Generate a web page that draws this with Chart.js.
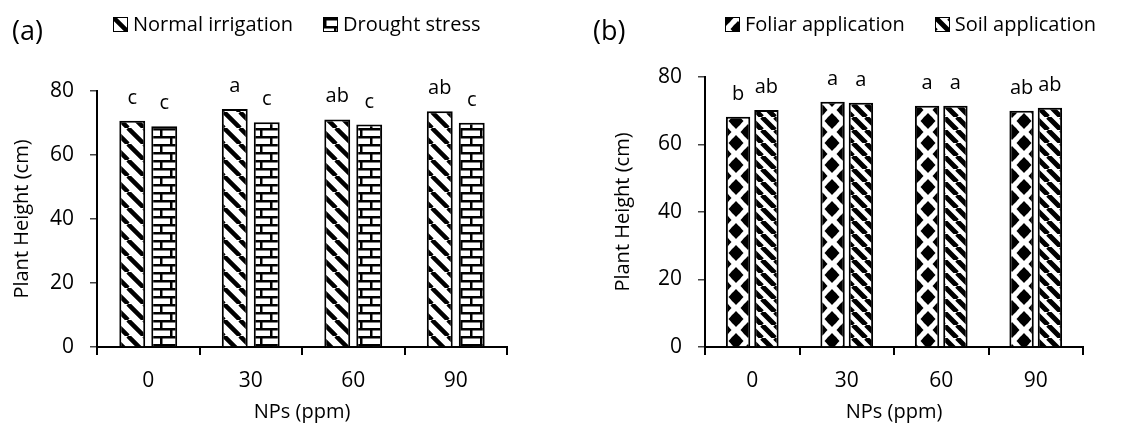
<!DOCTYPE html>
<html>
<head>
<meta charset="utf-8">
<script src="https://cdn.jsdelivr.net/npm/chart.js@4"></script>
<style>
  body { margin: 0; background: #fff; font-family: 'Open Sans', sans-serif; }
  #wrap { position: relative; width: 1137px; height: 433px; overflow: hidden; }
  canvas.chart { position: absolute; top: 0; }
  .panel { position: absolute; font-size: 27px; line-height: 32px; top: 14px; }
  .legend { position: absolute; top: 12px; display: flex; gap: 30px; font-size: 20px; line-height: 24px; }
  .legend span { display: flex; align-items: center; gap: 5px; white-space: nowrap; }
  .legend canvas { border: 1px solid #000; }
</style>
</head>
<body>
<div id="wrap">
  <canvas id="chartA" class="chart" width="560" height="433" style="left:0"></canvas>
  <canvas id="chartB" class="chart" width="557" height="433" style="left:580px"></canvas>
  <div class="panel" style="left:12px">(a)</div>
  <div class="panel" style="left:593px">(b)</div>
  <div class="legend" id="legendA" style="left:113px"></div>
  <div class="legend" id="legendB" style="left:725px"></div>
</div>
<script>
// data
var doses = ['0', '30', '60', '90'];
var normalIrrigation = [70.7, 74.4, 71.1, 73.7];
var droughtStress = [69.0, 70.2, 69.5, 70.1];
var normalLetters = ['c', 'a', 'ab', 'ab'];
var droughtLetters = ['c', 'c', 'c', 'c'];

var foliarApp = [68.2, 72.7, 71.5, 70.0];
var soilApp = [70.2, 72.4, 71.5, 70.9];
var foliarLetters = ['b', 'a', 'a', 'ab'];
var soilLetters = ['ab', 'a', 'a', 'ab'];

var yMax = 80;
var yStep = 20;

// fill patterns (Excel-like)
function tile(w, h, draw) {
  var c = document.createElement('canvas');
  c.width = w; c.height = h;
  var g = c.getContext('2d');
  g.fillStyle = '#fff';
  g.fillRect(0, 0, w, h);
  g.fillStyle = '#000';
  g.strokeStyle = '#000';
  draw(g);
  return c;
}

function stripeTile(size, lw) {
  return tile(size, size, function (g) {
    g.lineWidth = lw;
    g.beginPath();
    [-size, 0, size].forEach(function (o) {
      g.moveTo(o, 0);
      g.lineTo(o + size, size);
    });
    g.stroke();
  });
}

function brickTile() {
  return tile(20, 16, function (g) {
    g.fillRect(0, 0, 20, 2.5);
    g.fillRect(0, 8, 20, 2.5);
    g.fillRect(0, 0, 2.5, 8);
    g.fillRect(10, 8, 2.5, 8);
  });
}

function dotTile() {
  return tile(24, 22, function (g) {
    [[0, 0], [24, 0], [0, 22], [24, 22], [12, 11]].forEach(function (p) {
      g.beginPath();
      g.moveTo(p[0], p[1] - 8);
      g.lineTo(p[0] + 7.5, p[1]);
      g.lineTo(p[0], p[1] + 8);
      g.lineTo(p[0] - 7.5, p[1]);
      g.closePath();
      g.fill();
      g.beginPath();
      g.arc(p[0], p[1], 5.5, 0, Math.PI * 2);
      g.fill();
    });
  });
}

var ctxTmp = document.createElement('canvas').getContext('2d');
function pat(c) { return ctxTmp.createPattern(c, 'repeat'); }

var tiles = {
  normal: stripeTile(16, 4.5),
  drought: brickTile(),
  foliar: dotTile(),
  soil: stripeTile(13, 5)
};

// letters above the bars
var lettersPlugin = {
  id: 'letters',
  afterDatasetsDraw: function (chart) {
    var ctx = chart.ctx;
    ctx.save();
    ctx.font = '20px "Open Sans"';
    ctx.fillStyle = '#000';
    ctx.textAlign = 'center';
    ctx.textBaseline = 'alphabetic';
    chart.data.datasets.forEach(function (ds, i) {
      chart.getDatasetMeta(i).data.forEach(function (bar, j) {
        ctx.fillText(ds.letters[j], bar.x, bar.y - 17);
      });
    });
    ctx.restore();
  }
};

function buildLegend(el, datasets) {
  datasets.forEach(function (ds) {
    var item = document.createElement('span');
    var sw = document.createElement('canvas');
    sw.width = 13; sw.height = 13;
    var g = sw.getContext('2d');
    g.fillStyle = g.createPattern(ds.tile, 'repeat');
    g.fillRect(0, 0, 13, 13);
    item.appendChild(sw);
    item.appendChild(document.createTextNode(ds.label));
    el.appendChild(item);
  });
}

function makeOptions(yWidth, yTitlePad, padTop, padRight, cat, bar) {
  return {
    responsive: false,
    animation: false,
    devicePixelRatio: 1,
    layout: { padding: { top: padTop, right: padRight, bottom: 0, left: 0 } },
    datasets: { bar: { categoryPercentage: cat, barPercentage: bar } },
    plugins: { legend: { display: false }, tooltip: { enabled: false } },
    scales: {
      x: {
        afterFit: function (s) { s.height = 86; },
        border: { color: '#000', width: 2 },
        grid: { drawOnChartArea: false, color: '#000', lineWidth: 2, tickLength: 8 },
        ticks: { color: '#000', padding: 13, font: { family: 'Open Sans', size: 21 } },
        title: { display: true, text: 'NPs (ppm)', color: '#000', padding: { top: 0, bottom: 9 },
                 font: { family: 'Open Sans', size: 20 } }
      },
      y: {
        min: 0,
        max: yMax,
        afterFit: function (s) { s.width = yWidth; },
        border: { color: '#000', width: 2 },
        grid: { drawOnChartArea: false, color: '#444', lineWidth: 1.5, tickLength: 7 },
        ticks: { stepSize: yStep, color: '#000', padding: 16, font: { family: 'Open Sans', size: 21 } },
        title: { display: true, text: 'Plant Height (cm)', color: '#000', padding: { top: yTitlePad, bottom: 0 },
                 font: { family: 'Open Sans', size: 20 } }
      }
    }
  };
}

var dsA = [
  { label: 'Normal irrigation', data: normalIrrigation, letters: normalLetters, tile: tiles.normal,
    backgroundColor: pat(tiles.normal), borderColor: '#000', borderWidth: 2 },
  { label: 'Drought stress', data: droughtStress, letters: droughtLetters, tile: tiles.drought,
    backgroundColor: pat(tiles.drought), borderColor: '#000', borderWidth: 2 }
];

var dsB = [
  { label: 'Foliar application', data: foliarApp, letters: foliarLetters, tile: tiles.foliar,
    backgroundColor: pat(tiles.foliar), borderColor: '#000', borderWidth: 2 },
  { label: 'Soil application', data: soilApp, letters: soilLetters, tile: tiles.soil,
    backgroundColor: pat(tiles.soil), borderColor: '#000', borderWidth: 2 }
];

var chartA = new Chart(document.getElementById('chartA'), {
  type: 'bar',
  data: { labels: doses, datasets: dsA },
  options: makeOptions(97, 10, 91, 53, 0.624, 0.81),
  plugins: [lettersPlugin]
});

var chartB = new Chart(document.getElementById('chartB'), {
  type: 'bar',
  data: { labels: doses, datasets: dsB },
  options: makeOptions(125, 31, 77, 54, 0.60, 0.86),
  plugins: [lettersPlugin]
});

buildLegend(document.getElementById('legendA'), dsA);
buildLegend(document.getElementById('legendB'), dsB);
</script>
</body>
</html>
